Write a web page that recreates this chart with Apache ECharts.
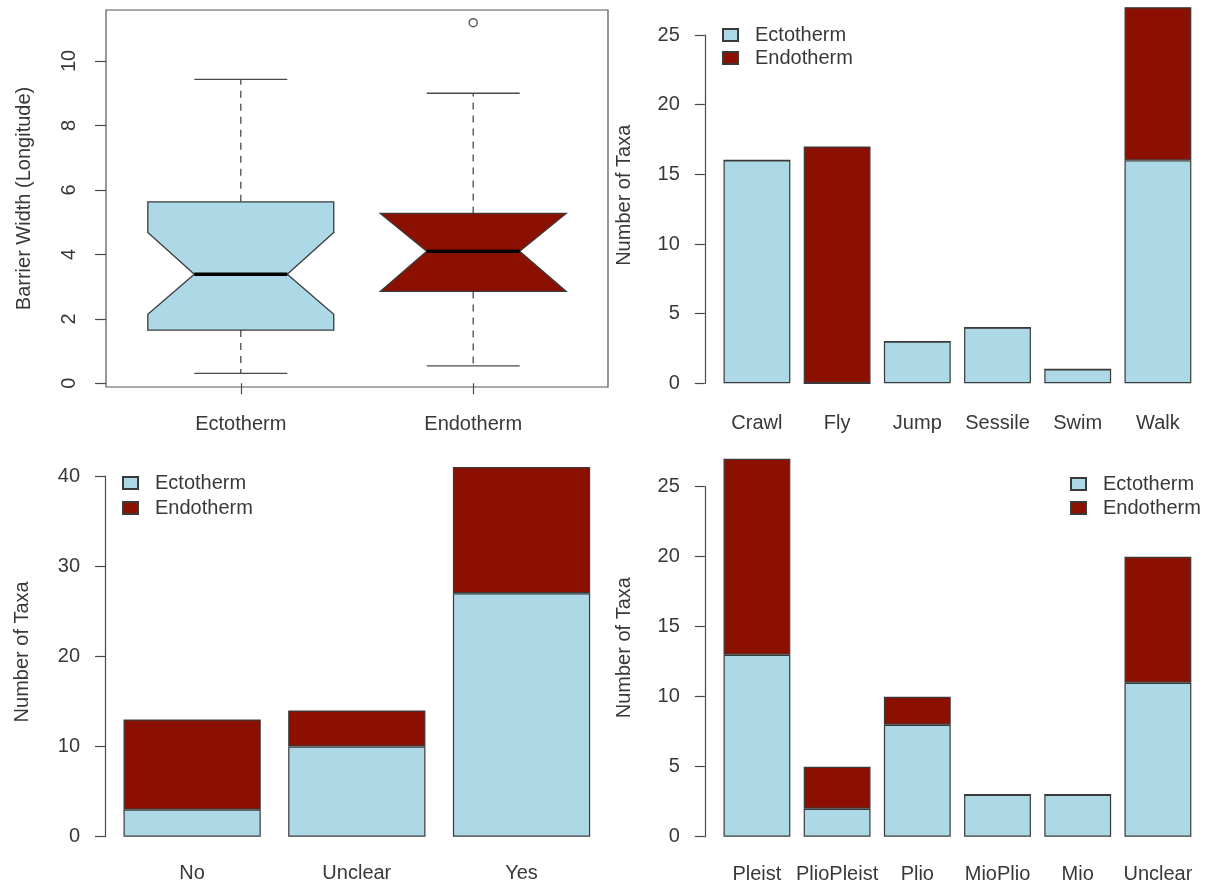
<!DOCTYPE html>
<html>
<head>
<meta charset="utf-8">
<script src="https://cdn.jsdelivr.net/npm/echarts@6/dist/echarts.min.js"></script>
<style>
  html, body { margin: 0; padding: 0; background: #fff; }
  #chart { width: 1206px; height: 886px; }
</style>
</head>
<body>
<div id="chart"></div>
<script>
// ---- Barrier width by thermoregulation (notched boxplot) ----
const boxGroups = ['Ectotherm', 'Endotherm'];
const boxWhiskerLow = [0.31, 0.54];
const boxQ1 = [1.65, 2.85];
const boxNotchLow = [2.14, 2.85];
const boxMedian = [3.38, 4.10];
const boxNotchHigh = [4.68, 5.27];
const boxQ3 = [5.63, 5.27];
const boxWhiskerHigh = [9.43, 9.00];
const boxOutliers = [[], [11.19]];
const boxTicks = [0, 2, 4, 6, 8, 10];

// ---- Number of taxa by locomotion ----
const locoCats = ['Crawl', 'Fly', 'Jump', 'Sessile', 'Swim', 'Walk'];
const locoEcto = [16, 0, 3, 4, 1, 16];
const locoEndo = [0, 17, 0, 0, 0, 11];

// ---- Number of taxa by evidence ----
const evidCats = ['No', 'Unclear', 'Yes'];
const evidEcto = [3, 10, 27];
const evidEndo = [10, 4, 14];

// ---- Number of taxa by epoch ----
const epochCats = ['Pleist', 'PlioPleist', 'Plio', 'MioPlio', 'Mio', 'Unclear'];
const epochEcto = [13, 2, 8, 3, 3, 11];
const epochEndo = [14, 3, 2, 0, 0, 9];

const countTicks25 = { max: 25, step: 5 };
const countTicks40 = { max: 40, step: 10 };

// ---- styling ----
const W = 1206, H = 886;
const FONT = 'Liberation Sans, Arial, Helvetica, sans-serif';
const TEXT = '#383838';
const LINE = '#4a4a4a';
const ECTO = '#ADD8E6';
const ENDO = '#8C1000';
const BORDER = '#3a3a3a';

const grids = [], xAxes = [], yAxes = [], series = [], legends = [];

// Boxplot panel: framed plot region
(function boxPanel() {
  const left = 106, top = 10, right = 608, bottom = 387;
  const zeroY = 383.3, unit = 32.23;
  const gi = grids.length;
  grids.push({ left, top, width: right - left, height: bottom - top,
    show: true, borderColor: '#555', borderWidth: 1.2, backgroundColor: 'transparent',
    outerBoundsMode: 'none' });
  xAxes.push({
    gridIndex: gi, type: 'value', min: 0.42, max: 2.58,
    axisLine: { show: false }, splitLine: { show: false },
    axisTick: { show: true, customValues: [1, 2], length: 11, lineStyle: { color: LINE, width: 1.2 } },
    axisLabel: { customValues: [1, 2], formatter: v => boxGroups[v - 1] || '',
      margin: 27, fontSize: 20, color: TEXT, fontFamily: FONT }
  });
  yAxes.push({
    gridIndex: gi, type: 'value',
    min: (zeroY - bottom) / unit, max: (zeroY - top) / unit,
    axisLine: { show: false }, splitLine: { show: false },
    axisTick: { show: true, customValues: boxTicks, length: 11, lineStyle: { color: LINE, width: 1.2 } },
    axisLabel: { customValues: boxTicks, rotate: 90, margin: 27, fontSize: 20, color: TEXT, fontFamily: FONT },
    name: 'Barrier Width (Longitude)', nameLocation: 'middle', nameGap: 72,
    nameTextStyle: { fontSize: 20, color: TEXT, fontFamily: FONT }
  });
  const boxColors = [ECTO, ENDO];
  const rows = boxGroups.map((g, i) => [i + 1, boxWhiskerLow[i], boxQ1[i], boxNotchLow[i],
    boxMedian[i], boxNotchHigh[i], boxQ3[i], boxWhiskerHigh[i]]);
  series.push({
    type: 'custom', xAxisIndex: gi, yAxisIndex: gi, data: rows,
    encode: { x: 0, y: [1, 2, 3, 4, 5, 6, 7] },
    renderItem(params, api) {
      const x = api.value(0);
      const wl = api.value(1), q1 = api.value(2), nl = api.value(3), md = api.value(4),
            nh = api.value(5), q3 = api.value(6), wh = api.value(7);
      const P = (dx, y) => api.coord([x + dx, y]);
      const seg = (a, b, style) => ({ type: 'line',
        shape: { x1: a[0], y1: a[1], x2: b[0], y2: b[1] }, style });
      const dashed = { stroke: LINE, lineWidth: 1.3, lineDash: [7, 6] };
      const solid = { stroke: LINE, lineWidth: 1.3 };
      return { type: 'group', children: [
        seg(P(0, q3), P(0, wh), dashed),
        seg(P(0, q1), P(0, wl), dashed),
        seg(P(-0.2, wh), P(0.2, wh), solid),
        seg(P(-0.2, wl), P(0.2, wl), solid),
        { type: 'polygon', shape: { points: [
            P(-0.4, q1), P(-0.4, nl), P(-0.2, md), P(-0.4, nh), P(-0.4, q3),
            P(0.4, q3), P(0.4, nh), P(0.2, md), P(0.4, nl), P(0.4, q1)] },
          style: { fill: boxColors[params.dataIndex], stroke: BORDER, lineWidth: 1.3 } },
        seg(P(-0.2, md), P(0.2, md), { stroke: '#000', lineWidth: 3.5 })
      ] };
    }
  });
  const outlierPts = [];
  boxOutliers.forEach((arr, i) => arr.forEach(v => outlierPts.push([i + 1, v])));
  series.push({
    type: 'scatter', xAxisIndex: gi, yAxisIndex: gi, data: outlierPts,
    symbol: 'circle', symbolSize: 8,
    itemStyle: { color: '#fff', borderColor: '#333', borderWidth: 1.5 }
  });
})();

// Stacked bar panel: one grid for the bars, one for the value axis (spans tick range only)
function barPanel(cfg) {
  const { cats, ecto, endo, zeroY, unit, axisX, firstBarLeft, pitch, ticks, nameGap,
          labelMargin, legend } = cfg;
  const totals = cats.map((c, i) => ecto[i] + endo[i]);
  const dataMax = Math.max(...totals);
  const yMin = -0.04 * dataMax, yMax = 1.04 * dataMax;
  const gTop = zeroY - yMax * unit, gBottom = zeroY - yMin * unit;
  const gLeft = firstBarLeft - pitch * (1 - 1 / 1.2) / 2;
  const gi = grids.length;
  grids.push({ left: gLeft, top: gTop, width: pitch * cats.length, height: gBottom - gTop,
    outerBoundsMode: 'none' });
  xAxes.push({
    gridIndex: gi, type: 'category', data: cats, boundaryGap: true,
    axisLine: { show: false }, axisTick: { show: false }, splitLine: { show: false },
    axisLabel: { margin: labelMargin, fontSize: 20, color: TEXT, fontFamily: FONT, interval: 0 }
  });
  yAxes.push({
    gridIndex: gi, type: 'value', min: yMin, max: yMax,
    axisLine: { show: false }, axisTick: { show: false }, axisLabel: { show: false },
    splitLine: { show: false },
    name: 'Number of Taxa', nameLocation: 'middle', nameGap,
    nameTextStyle: { fontSize: 20, color: TEXT, fontFamily: FONT }
  });
  const ai = grids.length;
  grids.push({ left: axisX, top: zeroY - ticks.max * unit, width: 10,
    height: ticks.max * unit, outerBoundsMode: 'none' });
  xAxes.push({ gridIndex: ai, type: 'value', show: false });
  yAxes.push({
    gridIndex: ai, type: 'value', min: 0, max: ticks.max, interval: ticks.step,
    axisLine: { show: true, lineStyle: { color: LINE, width: 1.2 } },
    axisTick: { show: true, length: 10, lineStyle: { color: LINE, width: 1.2 } },
    splitLine: { show: false },
    axisLabel: { margin: 25, fontSize: 20, color: TEXT, fontFamily: FONT }
  });
  const stack = 'stack' + gi;
  const common = { type: 'bar', xAxisIndex: gi, yAxisIndex: gi, stack,
    barCategoryGap: (100 * (1 - 1 / 1.2)).toFixed(3) + '%' };
  series.push(Object.assign({}, common, { name: 'Ectotherm', data: ecto,
    itemStyle: { color: ECTO, borderColor: BORDER, borderWidth: 1.2 } }));
  series.push(Object.assign({}, common, { name: 'Endotherm', data: endo,
    itemStyle: { color: ENDO, borderColor: BORDER, borderWidth: 1.2 } }));
  legends.push({
    data: ['Ectotherm', 'Endotherm'], orient: 'vertical',
    left: legend.left, top: legend.top, itemGap: legend.gap, padding: 0,
    icon: 'rect', itemWidth: 15, itemHeight: 12,
    selectedMode: false,
    textStyle: { fontSize: 20, color: TEXT, fontFamily: FONT, lineHeight: 20, padding: [0, 0, 0, 12] }
  });
}

barPanel({ cats: locoCats, ecto: locoEcto, endo: locoEndo,
  zeroY: 383.3, unit: 13.93, axisX: 704.8, firstBarLeft: 723.5, pitch: 80.2,
  ticks: countTicks25, nameGap: 82, labelMargin: 15, legend: { left: 722, top: 25, gap: 3 } });
barPanel({ cats: evidCats, ecto: evidEcto, endo: evidEndo,
  zeroY: 836.7, unit: 9.0175, axisX: 105, firstBarLeft: 123.5, pitch: 164.7,
  ticks: countTicks40, nameGap: 77, labelMargin: 12, legend: { left: 122, top: 473, gap: 5 } });
barPanel({ cats: epochCats, ecto: epochEcto, endo: epochEndo,
  zeroY: 836.7, unit: 14.0, axisX: 704.8, firstBarLeft: 723.5, pitch: 80.2,
  ticks: countTicks25, nameGap: 82, labelMargin: 13, legend: { left: 1070, top: 474, gap: 4 } });

const chart = echarts.init(document.getElementById('chart'), null, { renderer: 'canvas', width: W, height: H });
chart.setOption({
  backgroundColor: '#fff',
  animation: false,
  textStyle: { fontFamily: FONT },
  grid: grids, xAxis: xAxes, yAxis: yAxes, legend: legends, series
});
</script>
</body>
</html>
